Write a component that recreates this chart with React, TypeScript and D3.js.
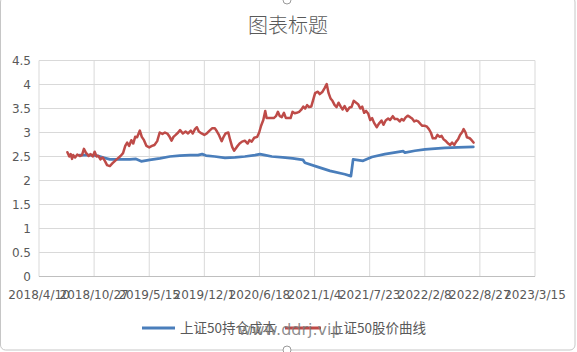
import React from "react";
import * as d3 from "d3";

const chartTitle = "图表标题";
const seriesNames = ["上证50持仓成本", "上证50股价曲线"];
const watermark = "www.ddrj.vip";

const xTickLabels = [
  "2018/4/10", "2018/10/27", "2019/5/15", "2019/12/1", "2020/6/18",
  "2021/1/4", "2021/7/23", "2022/2/8", "2022/8/27", "2023/3/15",
];
const yTicks = [0, 0.5, 1, 1.5, 2, 2.5, 3, 3.5, 4, 4.5];

const costDates = [
  "2018-09-05", "2018-10-12", "2018-11-06", "2018-11-29", "2018-12-23",
  "2019-01-29", "2019-03-06", "2019-03-28", "2019-04-16", "2019-05-17",
  "2019-06-23", "2019-07-29", "2019-09-03", "2019-10-10", "2019-11-08",
  "2019-11-23", "2019-12-07", "2020-01-08", "2020-02-14", "2020-03-21",
  "2020-04-26", "2020-06-02", "2020-06-20", "2020-07-08", "2020-08-02",
  "2020-09-11", "2020-10-17", "2020-11-23", "2020-11-30", "2021-01-12",
  "2021-03-01", "2021-04-24", "2021-05-16", "2021-05-24", "2021-06-29",
  "2021-07-31", "2021-09-16", "2021-11-22", "2021-11-28", "2022-01-03",
  "2022-02-09", "2022-04-22", "2022-06-08", "2022-08-03",
];
const costValues = [
  2.53, 2.53, 2.52, 2.48, 2.44,
  2.44, 2.44, 2.45, 2.40, 2.43,
  2.46, 2.50, 2.52, 2.53, 2.53,
  2.55, 2.52, 2.50, 2.47, 2.48,
  2.50, 2.53, 2.55, 2.53, 2.50,
  2.48, 2.46, 2.43, 2.37, 2.29,
  2.20, 2.13, 2.09, 2.44, 2.41,
  2.49, 2.55, 2.61, 2.58, 2.62,
  2.65, 2.68, 2.69, 2.70,
];

const priceDates = [
  "2018-07-22", "2018-07-29", "2018-08-03", "2018-08-08", "2018-08-12",
  "2018-08-19", "2018-08-27", "2018-09-05", "2018-09-13", "2018-09-20",
  "2018-09-27", "2018-10-07", "2018-10-14", "2018-10-22", "2018-10-29",
  "2018-11-05", "2018-11-12", "2018-11-19", "2018-11-27", "2018-12-05",
  "2018-12-13", "2018-12-23", "2019-01-02", "2019-01-11", "2019-01-21",
  "2019-01-31", "2019-02-09", "2019-02-17", "2019-02-24", "2019-03-03",
  "2019-03-11", "2019-03-18", "2019-03-25", "2019-04-01", "2019-04-11",
  "2019-04-18", "2019-04-26", "2019-05-05", "2019-05-15", "2019-05-25",
  "2019-06-03", "2019-06-13", "2019-06-22", "2019-07-02", "2019-07-11",
  "2019-07-21", "2019-07-28", "2019-08-04", "2019-08-11", "2019-08-19",
  "2019-08-28", "2019-09-04", "2019-09-14", "2019-09-24", "2019-10-03",
  "2019-10-13", "2019-10-20", "2019-10-28", "2019-11-04", "2019-11-11",
  "2019-11-21", "2019-12-01", "2019-12-10", "2019-12-20", "2019-12-30",
  "2020-01-08", "2020-01-16", "2020-01-23", "2020-02-02", "2020-02-09",
  "2020-02-16", "2020-02-26", "2020-03-04", "2020-03-11", "2020-03-18",
  "2020-03-28", "2020-04-07", "2020-04-16", "2020-04-26", "2020-05-06",
  "2020-05-13", "2020-05-21", "2020-05-30", "2020-06-10", "2020-06-17",
  "2020-06-24", "2020-07-02", "2020-07-09", "2020-07-14", "2020-07-21",
  "2020-07-31", "2020-08-09", "2020-08-17", "2020-08-24", "2020-08-31",
  "2020-09-07", "2020-09-15", "2020-09-22", "2020-10-02", "2020-10-09",
  "2020-10-16", "2020-10-24", "2020-10-31", "2020-11-09", "2020-11-16",
  "2020-11-24", "2020-12-01", "2020-12-08", "2020-12-15", "2020-12-23",
  "2020-12-30", "2021-01-06", "2021-01-16", "2021-01-23", "2021-02-02",
  "2021-02-09", "2021-02-17", "2021-02-24", "2021-03-03", "2021-03-10",
  "2021-03-18", "2021-03-25", "2021-04-01", "2021-04-09", "2021-04-16",
  "2021-04-23", "2021-05-02", "2021-05-11", "2021-05-18", "2021-05-26",
  "2021-06-04", "2021-06-11", "2021-06-19", "2021-06-26", "2021-07-03",
  "2021-07-10", "2021-07-18", "2021-07-25", "2021-08-01", "2021-08-08",
  "2021-08-18", "2021-08-25", "2021-09-04", "2021-09-11", "2021-09-19",
  "2021-09-28", "2021-10-05", "2021-10-15", "2021-10-22", "2021-11-01",
  "2021-11-09", "2021-11-16", "2021-11-23", "2021-11-30", "2021-12-08",
  "2021-12-17", "2021-12-24", "2022-01-01", "2022-01-08", "2022-01-15",
  "2022-01-23", "2022-01-30", "2022-02-09", "2022-02-16", "2022-02-23",
  "2022-03-02", "2022-03-09", "2022-03-19", "2022-03-26", "2022-04-03",
  "2022-04-10", "2022-04-17", "2022-04-24", "2022-05-04", "2022-05-11",
  "2022-05-18", "2022-05-26", "2022-06-02", "2022-06-09", "2022-06-16",
  "2022-06-24", "2022-06-29", "2022-07-06", "2022-07-11", "2022-07-21",
  "2022-07-28", "2022-08-04",
];
const priceValues = [
  2.59, 2.50, 2.55, 2.45, 2.53,
  2.48, 2.54, 2.51, 2.53, 2.66,
  2.58, 2.51, 2.55, 2.50, 2.60,
  2.50, 2.51, 2.44, 2.48, 2.41,
  2.32, 2.30, 2.36, 2.41, 2.46,
  2.51, 2.57, 2.72, 2.79, 2.72,
  2.84, 2.77, 2.91, 2.90, 3.04,
  2.91, 2.84, 2.72, 2.69, 2.72,
  2.74, 2.82, 3.00, 2.97, 3.00,
  2.97, 2.91, 2.83, 2.91, 2.95,
  3.00, 3.05, 2.98, 3.02, 2.98,
  3.04, 2.98, 3.07, 3.11, 3.02,
  2.98, 2.95, 2.98, 3.04, 3.09,
  3.09, 3.02, 2.95, 2.82, 2.91,
  2.98, 3.00, 2.84, 2.70, 2.62,
  2.70, 2.77, 2.81, 2.83, 2.77,
  2.84, 2.81, 2.89, 2.91, 3.00,
  3.14, 3.26, 3.45, 3.30, 3.30,
  3.30, 3.30, 3.34, 3.43, 3.34,
  3.32, 3.41, 3.30, 3.30, 3.30,
  3.43, 3.40, 3.41, 3.43, 3.47,
  3.54, 3.50, 3.57, 3.53, 3.54,
  3.68, 3.82, 3.85, 3.80, 3.85,
  3.92, 4.01, 3.82, 3.71, 3.66,
  3.57, 3.53, 3.62, 3.54, 3.48,
  3.55, 3.45, 3.52, 3.53, 3.66,
  3.62, 3.59, 3.50, 3.54, 3.41,
  3.45, 3.39, 3.26, 3.30, 3.20,
  3.11, 3.18, 3.25, 3.16, 3.25,
  3.29, 3.26, 3.34, 3.28, 3.28,
  3.23, 3.28, 3.25, 3.31, 3.35,
  3.32, 3.29, 3.23, 3.25, 3.23,
  3.18, 3.14, 3.14, 3.12, 3.07,
  3.00, 2.88, 2.88, 2.95, 2.91,
  2.93, 2.86, 2.83, 2.77, 2.74,
  2.79, 2.74, 2.81, 2.86, 2.95,
  3.01, 3.07, 3.00, 2.90, 2.88,
  2.84, 2.79,
];

const W = 577;
const H = 352;
const plot = { left: 39, right: 535, top: 60.5, bottom: 276.5 };
const textColor = "#595959";
const gridColor = "#d9d9d9";
const costColor = "#4a7ebb";
const priceColor = "#be4b48";
const uiFont = "'DejaVu Sans', 'Noto Sans CJK SC', sans-serif";
const cjkFont = "'Noto Sans CJK SC', 'DejaVu Sans', sans-serif";

const parseISO = d3.timeParse("%Y-%m-%d");
const parseTick = d3.timeParse("%Y/%m/%d");

export default function App() {
  const tickDates = xTickLabels.map((s) => parseTick(s) as Date);
  const x = d3
    .scaleTime()
    .domain([tickDates[0], tickDates[tickDates.length - 1]])
    .range([plot.left, plot.right]);
  const y = d3.scaleLinear().domain([0, 4.5]).range([plot.bottom, plot.top]);

  const costData = costDates.map((d, i) => ({ d: parseISO(d) as Date, v: costValues[i] }));
  const priceData = priceDates.map((d, i) => ({ d: parseISO(d) as Date, v: priceValues[i] }));

  const line = d3
    .line<{ d: Date; v: number }>()
    .x((p) => x(p.d))
    .y((p) => y(p.v));

  const legendY = 328;

  return (
    <svg
      width={W}
      height={H}
      style={{ position: "absolute", left: 0, top: 0, background: "#fff" }}
    >
      <rect x={0.5} y={-3} width={574.5} height={353} rx={5} fill="#fff" stroke="#c6c6c6" strokeWidth={1} />

      <text x={288} y={33} textAnchor="middle" fontFamily={cjkFont} fontWeight={300} fontSize={20} fill={textColor}>
        {chartTitle}
      </text>

      {yTicks.map((t) => (
        <line key={"h" + t} x1={plot.left} x2={plot.right} y1={y(t)} y2={y(t)} stroke={gridColor} strokeWidth={1} />
      ))}
      {tickDates.map((d, i) => (
        <line key={"v" + i} x1={x(d)} x2={x(d)} y1={plot.top} y2={plot.bottom} stroke={gridColor} strokeWidth={1} />
      ))}
      <line x1={plot.left} x2={plot.right} y1={plot.bottom} y2={plot.bottom} stroke="#bfbfbf" strokeWidth={1} />

      {yTicks.map((t) => (
        <text key={"yl" + t} x={31} y={y(t) + 4.5} textAnchor="end" fontFamily={uiFont} fontSize={12} fill={textColor}>
          {String(t)}
        </text>
      ))}
      {tickDates.map((d, i) => (
        <text key={"xl" + i} x={x(d)} y={299} textAnchor="middle" fontFamily={uiFont} fontSize={12} fill={textColor}>
          {xTickLabels[i]}
        </text>
      ))}

      <path d={line(costData) || ""} fill="none" stroke={costColor} strokeWidth={2.75} strokeLinejoin="round" strokeLinecap="round" />
      <path d={line(priceData) || ""} fill="none" stroke={priceColor} strokeWidth={2.5} strokeLinejoin="round" strokeLinecap="round" />

      <line x1={142} x2={175} y1={legendY} y2={legendY} stroke={costColor} strokeWidth={3} />
      <text x={180} y={legendY + 4.5} fontFamily={cjkFont} fontSize={13.5} fill={textColor}>
        {seriesNames[0]}
      </text>
      <line x1={285} x2={321} y1={legendY} y2={legendY} stroke={priceColor} strokeWidth={3} />
      <text x={330} y={legendY + 4.5} fontFamily={cjkFont} fontSize={13.5} fill={textColor}>
        {seriesNames[1]}
      </text>

      <text x={290} y={335} textAnchor="middle" fontFamily="'DejaVu Sans', sans-serif" fontSize={16} fill="#7a7a7a" fillOpacity={0.85}>
        {watermark}
      </text>

      <circle cx={287} cy={0} r={4} fill="#fff" stroke="#9a9a9a" />
      <circle cx={287} cy={350} r={4} fill="#fff" stroke="#9a9a9a" />
    </svg>
  );
}
